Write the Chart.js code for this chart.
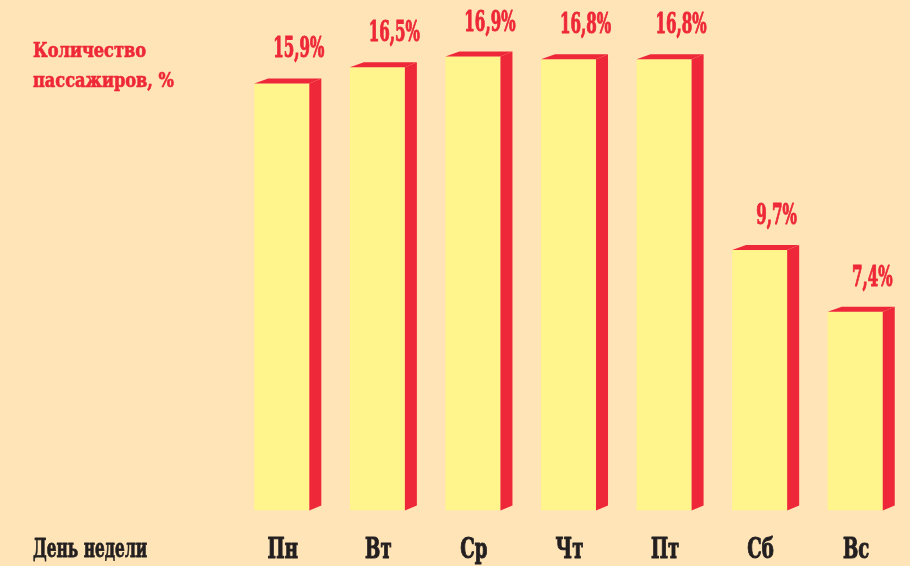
<!DOCTYPE html>
<html>
<head>
<meta charset="utf-8">
<script src="https://cdn.jsdelivr.net/npm/chart.js@4/dist/chart.umd.min.js"></script>
<style>
  html, body { margin: 0; padding: 0; background: #FEE4B7; }
  #wrap { width: 910px; height: 566px; position: relative; }
</style>
</head>
<body>
<div id="wrap"><canvas id="c" width="910" height="566"></canvas></div>
<script>
// Доля пассажиров по дням недели
const days = ['Пн', 'Вт', 'Ср', 'Чт', 'Пт', 'Сб', 'Вс'];
const shares = [15.9, 16.5, 16.9, 16.8, 16.8, 9.7, 7.4];
const valueLabels = ['15,9%', '16,5%', '16,9%', '16,8%', '16,8%', '9,7%', '7,4%'];
const titleLines = ['Количество', 'пассажиров, %'];
const axisTitle = 'День недели';

const FONT = '"DejaVu Serif Condensed", "DejaVu Serif", serif';
const RED = '#EE2838';
const YELLOW = '#FFF58C';
const INK = '#231F20';

// текст, сжатый по горизонтали, с небольшим утолщением штриха
function narrowText(ctx, text, x, y, sx, align, stroke) {
  ctx.save();
  ctx.translate(x, y);
  ctx.scale(sx, 1);
  ctx.textAlign = align;
  ctx.textBaseline = 'alphabetic';
  ctx.fillText(text, 0, 0);
  if (stroke) {
    ctx.strokeStyle = ctx.fillStyle;
    ctx.lineWidth = stroke;
    ctx.lineJoin = 'round';
    ctx.strokeText(text, 0, 0);
  }
  ctx.restore();
}

// Объёмные грани столбцов, подписи значений, дней и заголовки
const decor = {
  id: 'decor',
  afterDatasetsDraw(chart) {
    const ctx = chart.ctx;
    const meta = chart.getDatasetMeta(0);
    const xScale = chart.scales.x;
    const dx = 12, dy = 5;
    ctx.save();
    ctx.fillStyle = RED;
    meta.data.forEach((bar, i) => {
      const p = bar.getProps(['x', 'y', 'base', 'width'], true);
      const l = p.x - p.width / 2, r = p.x + p.width / 2;
      // правая грань
      ctx.beginPath();
      ctx.moveTo(r, p.y);
      ctx.lineTo(r + dx, p.y - dy);
      ctx.lineTo(r + dx, p.base - dy);
      ctx.lineTo(r, p.base);
      ctx.closePath();
      ctx.fill();
      // верхняя грань
      ctx.beginPath();
      ctx.moveTo(l, p.y);
      ctx.lineTo(l + dx + 2, p.y - dy);
      ctx.lineTo(r + dx, p.y - dy);
      ctx.lineTo(r, p.y);
      ctx.closePath();
      ctx.fill();
      // подпись значения
      ctx.font = 'bold 28px ' + FONT;
      narrowText(ctx, valueLabels[i], p.x + 17, p.y - 26, 0.6, 'center', 1);
    });
    // заголовок оси значений
    ctx.font = 'bold 20px ' + FONT;
    narrowText(ctx, titleLines[0], 33, 57, 0.9, 'left', 0.6);
    narrowText(ctx, titleLines[1], 33, 87, 0.9, 'left', 0.6);
    // подписи дней недели по шкале категорий
    ctx.fillStyle = INK;
    ctx.font = 'bold 28px ' + FONT;
    xScale.getLabels().forEach((lab, i) => {
      narrowText(ctx, lab, xScale.getPixelForValue(i) + 1, 558, 0.72, 'center', 1);
    });
    // подпись оси категорий
    ctx.font = 'bold 26px ' + FONT;
    narrowText(ctx, axisTitle, 33, 557, 0.66, 'left', 0.8);
    ctx.restore();
  }
};

new Chart(document.getElementById('c'), {
  type: 'bar',
  data: {
    labels: days,
    datasets: [{
      data: shares,
      backgroundColor: YELLOW,
      borderWidth: 0,
      barPercentage: 0.576,
      categoryPercentage: 1
    }]
  },
  options: {
    responsive: false,
    animation: false,
    layout: { padding: { left: 234, right: 7, top: 27, bottom: 55.5 } },
    plugins: { legend: { display: false }, tooltip: { enabled: false } },
    scales: {
      x: { display: false },
      y: { display: false, min: 0, max: 18 }
    }
  },
  plugins: [decor]
});
</script>
</body>
</html>
